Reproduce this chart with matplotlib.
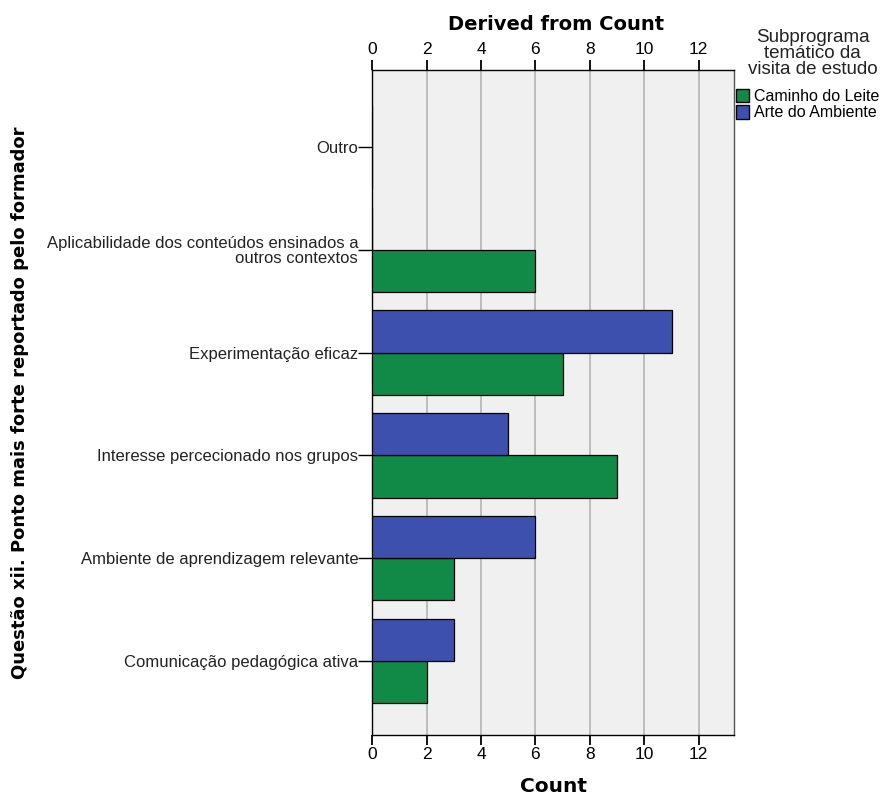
import numpy as np
import matplotlib.pyplot as plt
from matplotlib.patches import Patch

categories = ["Outro",
              "Aplicabilidade dos conteúdos ensinados a\noutros contextos",
              "Experimentação eficaz",
              "Interesse percecionado nos grupos",
              "Ambiente de aprendizagem relevante",
              "Comunicação pedagógica ativa"]
caminho = [0, 6, 7, 9, 3, 2]
arte = [0, 0, 11, 5, 6, 3]
series_names = ["Caminho do Leite", "Arte do Ambiente"]
xticks = [0, 2, 4, 6, 8, 10, 12]

green = "#128a47"
blue = "#3d50ae"

plt.rcParams['font.family'] = ['Liberation Sans', 'DejaVu Sans']

fig = plt.figure(figsize=(8.88, 7.98), dpi=100)
ax = fig.add_axes([0.419, 0.079, 0.4077, 0.8334])
ax.set_facecolor("#f0f0f0")

y = np.arange(len(categories))
h = 0.41
# green below the tick, blue above
ax.barh(y + h / 2, caminho, height=h, color=green, edgecolor="black", linewidth=0.9, zorder=3)
ax.barh(y - h / 2, arte, height=h, color=blue, edgecolor="black", linewidth=0.9, zorder=3)

ax.set_xlim(0, 13.3)
ax.set_ylim(5.72, -0.75)
ax.set_xticks(xticks)
ax.set_yticks(y)
ax.set_yticklabels(categories, fontsize=12, linespacing=1.0, color="#222222")
ax.grid(axis="x", color="#b4b4b4", linewidth=1.2, zorder=1)

ax.tick_params(axis="x", top=True, labeltop=True, bottom=True, labelbottom=True,
               length=7, width=1.3, labelsize=12.5, direction="out", pad=2)
ax.tick_params(axis="y", length=10, width=1.0, pad=0)
for s in ax.spines.values():
    s.set_linewidth(1.0)
    s.set_color("black")
ax.spines["right"].set_color("#555555")

fig.text(0.623, 0.003, "Count", ha="center", va="bottom",
         fontsize=14.5, fontweight="bold", family="DejaVu Sans")
fig.text(0.626, 0.969, "Derived from Count", ha="center", va="center",
         fontsize=14, fontweight="bold", family="DejaVu Sans")
fig.text(0.022, 0.495, "Questão xii. Ponto mais forte reportado pelo formador",
         rotation=90, ha="center", va="center", fontsize=13, fontweight="bold",
         family="DejaVu Sans")

fig.text(0.915, 0.933, "Subprograma\ntemático da\nvisita de estudo", ha="center", va="center",
         fontsize=13.5, linespacing=0.92, color="#222222")
handles = [Patch(facecolor=green, edgecolor="black", label=series_names[0]),
           Patch(facecolor=blue, edgecolor="black", label=series_names[1])]
fig.legend(handles=handles, loc="upper left", bbox_to_anchor=(0.829, 0.889), frameon=False,
           fontsize=11.5, handlelength=0.8, handleheight=0.9, handletextpad=0.3,
           labelspacing=0.1, borderaxespad=0, borderpad=0)

fig.savefig("out.png", dpi=100)
